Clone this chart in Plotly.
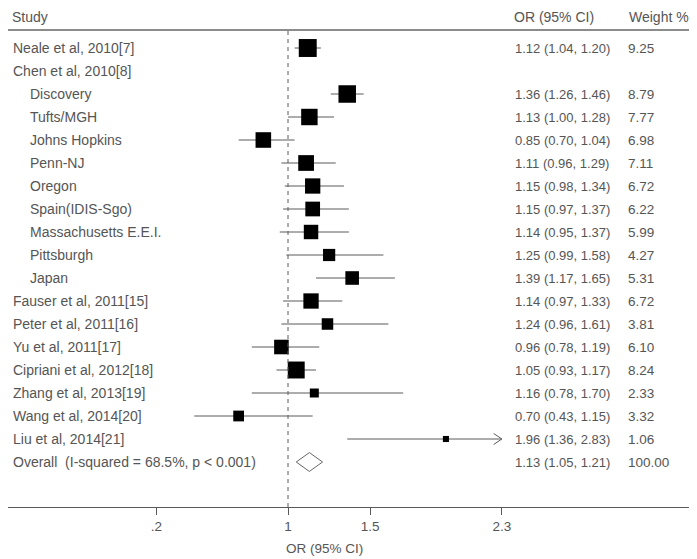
import plotly.graph_objects as go

studies = ["Neale et al, 2010[7]", "Chen et al, 2010[8]", "Discovery", "Tufts/MGH",
           "Johns Hopkins", "Penn-NJ", "Oregon", "Spain(IDIS-Sgo)", "Massachusetts E.E.I.",
           "Pittsburgh", "Japan", "Fauser et al, 2011[15]", "Peter et al, 2011[16]",
           "Yu et al, 2011[17]", "Cipriani et al, 2012[18]", "Zhang et al, 2013[19]",
           "Wang et al, 2014[20]", "Liu et al, 2014[21]"]
indented = [False, False, True, True, True, True, True, True, True, True, True,
            False, False, False, False, False, False, False]
or_vals = [1.12, None, 1.36, 1.13, 0.85, 1.11, 1.15, 1.15, 1.14, 1.25, 1.39,
           1.14, 1.24, 0.96, 1.05, 1.16, 0.70, 1.96]
ci_low = [1.04, None, 1.26, 1.00, 0.70, 0.96, 0.98, 0.97, 0.95, 0.99, 1.17,
          0.97, 0.96, 0.78, 0.93, 0.78, 0.43, 1.36]
ci_high = [1.20, None, 1.46, 1.28, 1.04, 1.29, 1.34, 1.37, 1.37, 1.58, 1.65,
           1.33, 1.61, 1.19, 1.17, 1.70, 1.15, 2.83]
weights = [9.25, None, 8.79, 7.77, 6.98, 7.11, 6.72, 6.22, 5.99, 4.27, 5.31,
           6.72, 3.81, 6.10, 8.24, 2.33, 3.32, 1.06]

overall_label = "Overall  (I-squared = 68.5%, p < 0.001)"
overall_or, overall_lo, overall_hi, overall_w = 1.13, 1.05, 1.21, 100.00

tick_vals = [0.2, 1, 1.5, 2.3]
tick_text = [".2", "1", "1.5", "2.3"]
x_axis_title = "OR (95% CI)"
headers = ["Study", "OR (95% CI)", "Weight %"]

TXT = "#555555"
LINE = "#5a5a5a"
FONT = "Liberation Sans, Arial, sans-serif"
FS_LABEL = 14
FS_NUM = 13
FS_W = 13.5

# page offset (body margin) and geometry in screen pixels
OFF = 8
W, H = 697 - OFF, 559 - OFF
ML, MR, MT = 0, 7, 0
axis_screen_y = 507
MB = 559 - axis_screen_y
PW = W - ML - MR
PH = H - MT - MB
px_per_unit = 164.5
x_one_px = 288 - OFF
x_range = [1 - x_one_px / px_per_unit, 1 + (PW - x_one_px) / px_per_unit]
row0_px, row_step = 48 - OFF, 23.0
y_range = [(PH - row0_px) / row_step, -row0_px / row_step]
xmax = max(tick_vals)


def sx(screen_x):
    return (screen_x - OFF - ML) / PW


def sy(screen_y):
    return (PH - (screen_y - OFF)) / PH


fig = go.Figure()

# study estimates
ys, xs, ep, em, sizes = [], [], [], [], []
for i, (o, lo, hi, w) in enumerate(zip(or_vals, ci_low, ci_high, weights)):
    if o is None:
        continue
    ys.append(i)
    xs.append(o)
    ep.append(min(hi, xmax) - o)
    em.append(o - lo)
    sizes.append(5.9 * w ** 0.5)

fig.add_trace(go.Scatter(
    x=xs, y=ys, mode="markers",
    marker=dict(symbol="square", size=sizes, color="black", opacity=1,
                line=dict(width=0)),
    error_x=dict(type="data", symmetric=False, array=ep, arrayminus=em,
                 color=LINE, thickness=1, width=0),
    hoverinfo="skip", showlegend=False))

# arrows for clipped CIs
for i, hi in enumerate(ci_high):
    if hi is not None and hi > xmax:
        fig.add_trace(go.Scatter(
            x=[xmax - 0.05, xmax, xmax - 0.05], y=[i - 0.24, i, i + 0.24],
            mode="lines", line=dict(color=LINE, width=1),
            hoverinfo="skip", showlegend=False))

# overall diamond
r_ov = len(studies)
fig.add_trace(go.Scatter(
    x=[overall_lo, overall_or, overall_hi, overall_or, overall_lo],
    y=[r_ov, r_ov - 0.41, r_ov, r_ov + 0.41, r_ov],
    mode="lines", line=dict(color="#666666", width=1),
    hoverinfo="skip", showlegend=False))

# null line
fig.add_shape(type="line", xref="x", yref="paper", x0=1, x1=1,
              y0=0, y1=sy(31),
              line=dict(color=LINE, width=1, dash="4px,4px"))
# header rule
fig.add_shape(type="line", xref="paper", yref="paper", x0=0, x1=1,
              y0=sy(30), y1=sy(30),
              line=dict(color="#666666", width=1.5))


def ann(xpx, y, text, yref="y", size=FS_LABEL, pad=1):
    fig.add_annotation(x=sx(xpx), xref="paper", y=y, yref=yref,
                       text=text, showarrow=False, xanchor="left", yanchor="middle",
                       borderpad=pad,
                       font=dict(family=FONT, size=size, color=TXT))


hdr_y = sy(17)
ann(11, hdr_y, headers[0], yref="paper", pad=0)
ann(513, hdr_y, headers[1], yref="paper", pad=0)
ann(628, hdr_y, headers[2], yref="paper", pad=0)

for i, s in enumerate(studies):
    ann(28 if indented[i] else 11, i, s)
    if or_vals[i] is not None:
        ann(513, i, f"{or_vals[i]:.2f} ({ci_low[i]:.2f}, {ci_high[i]:.2f})", size=FS_NUM)
        ann(626, i, f"{weights[i]:.2f}", size=FS_W)
ann(11, r_ov, overall_label)
ann(513, r_ov, f"{overall_or:.2f} ({overall_lo:.2f}, {overall_hi:.2f})", size=FS_NUM)
ann(626, r_ov, f"{overall_w:.2f}", size=FS_W)

fig.add_annotation(x=sx(324), xref="paper", y=sy(548), yref="paper",
                   text=x_axis_title, showarrow=False, xanchor="center",
                   yanchor="middle",
                   font=dict(family=FONT, size=13.5, color=TXT))

fig.update_layout(
    width=W, height=H, margin=dict(l=ML, r=MR, t=MT, b=MB),
    plot_bgcolor="white", paper_bgcolor="white",
    xaxis=dict(range=x_range, tickvals=tick_vals, ticktext=tick_text,
               showgrid=False, zeroline=False, showline=True, linecolor=LINE,
               linewidth=1, ticks="outside", ticklen=7, tickcolor=LINE,
               tickfont=dict(family=FONT, size=13.5, color=TXT)),
    yaxis=dict(range=y_range, showgrid=False, zeroline=False, showticklabels=False,
               showline=False, ticks=""),
)

fig.write_html("out.html")
